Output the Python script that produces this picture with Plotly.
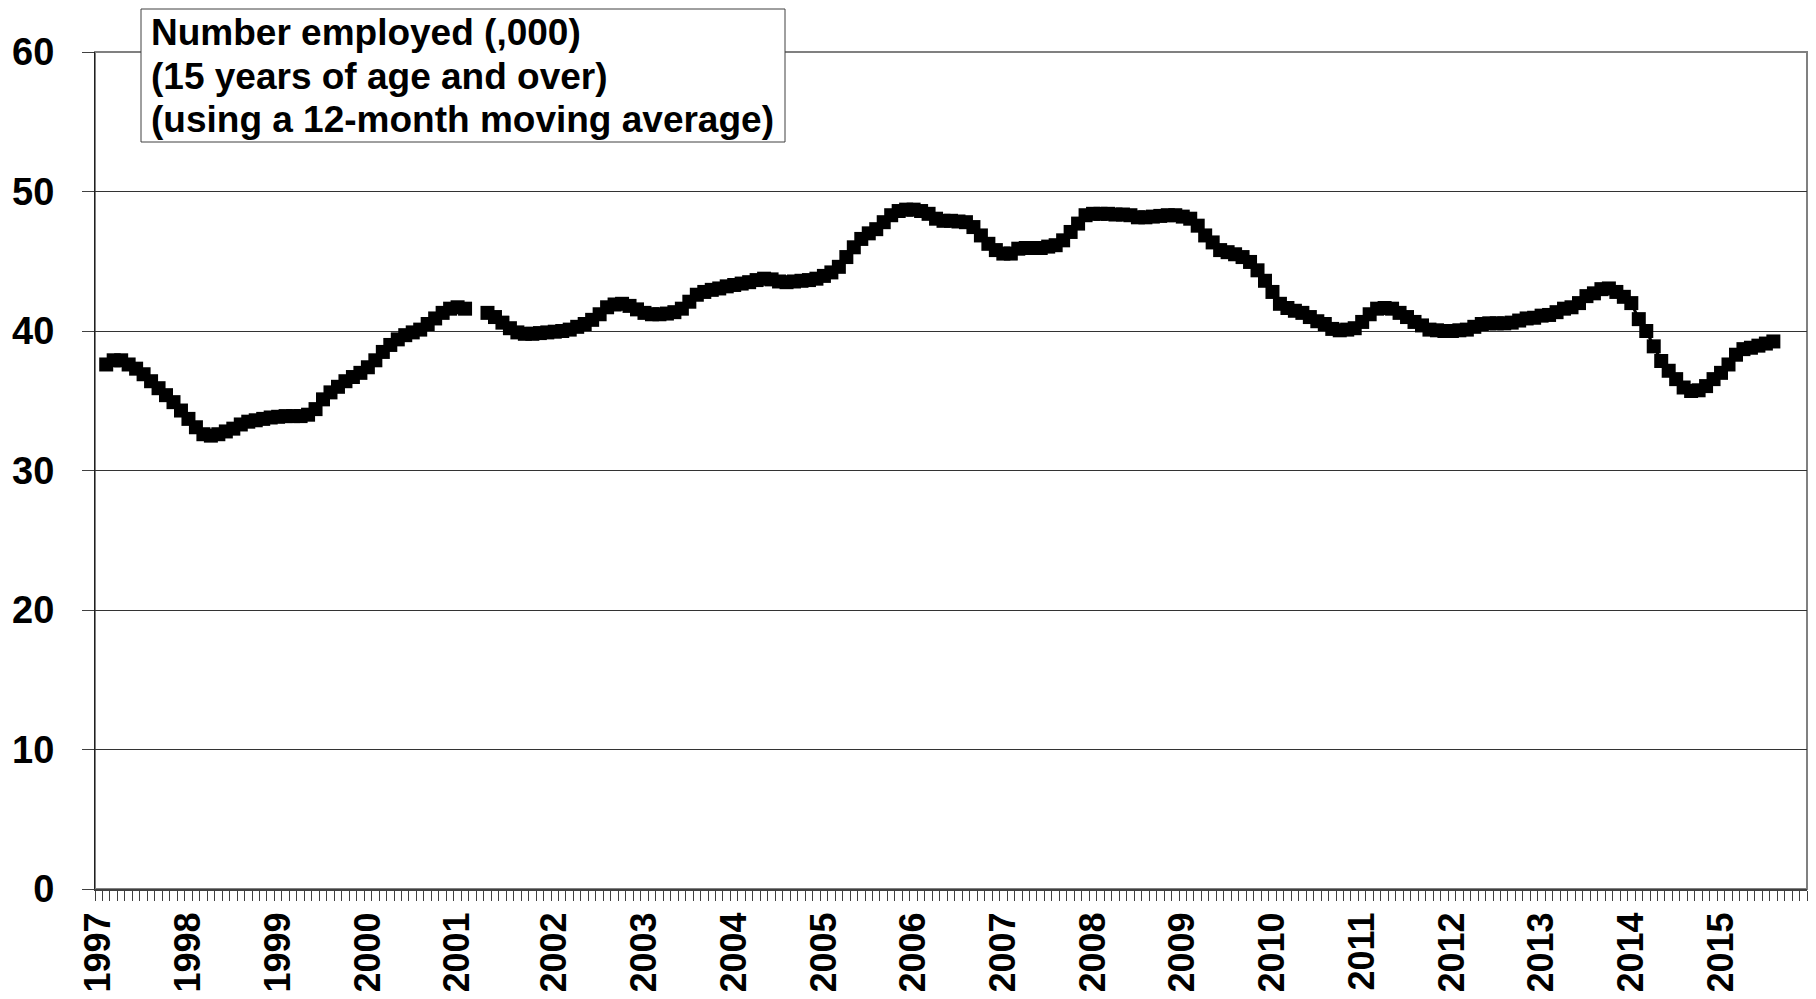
import plotly.graph_objects as go

# ---- data -------------------------------------------------------------
# monthly category slots (one extra blank slot inside 2001)
n_categories = 229
year_labels = ["1997", "1998", "1999", "2000", "2001", "2002", "2003", "2004",
               "2005", "2006", "2007", "2008", "2009", "2010", "2011", "2012",
               "2013", "2014", "2015"]
year_label_slot = [0, 12, 24, 36, 48, 61, 73, 85, 97, 109, 121, 133, 145,
                   157, 169, 181, 193, 205, 217]

employed = [
    None, 37.6, 37.9, 37.9, 37.6, 37.3, 36.9, 36.4, 35.9, 35.4, 34.9, 34.3,
    33.7, 33.1, 32.6, 32.5, 32.6, 32.8, 33.0, 33.3, 33.5, 33.6, 33.7, 33.8,
    33.85, 33.9, 33.9, 33.9, 34.0, 34.4, 35.1, 35.6, 36.0, 36.4, 36.7, 37.0,
    37.4, 37.9, 38.5, 39.0, 39.4, 39.7, 39.9, 40.1, 40.5, 40.9, 41.3, 41.6,
    41.7, 41.6, None, None, 41.3, 41.0, 40.6, 40.2, 39.9, 39.8, 39.8, 39.85, 39.9,
    39.95, 40.0, 40.1, 40.3, 40.5, 40.8, 41.2, 41.7, 41.9, 41.95, 41.8, 41.55,
    41.3, 41.2, 41.2, 41.25, 41.35, 41.6, 42.1, 42.6, 42.8, 42.95, 43.05, 43.2,
    43.3, 43.4, 43.5, 43.65, 43.75, 43.7, 43.55, 43.5, 43.55, 43.6, 43.65, 43.75,
    43.95, 44.2, 44.6, 45.3, 46.0, 46.6, 47.0, 47.3, 47.8, 48.3, 48.6, 48.7,
    48.7, 48.6, 48.4, 48.05, 47.9, 47.9, 47.85, 47.8, 47.45, 46.85, 46.25, 45.8,
    45.55, 45.55, 45.9, 45.95, 45.95, 45.95, 46.05, 46.15, 46.5, 47.1, 47.7, 48.3,
    48.4, 48.4, 48.4, 48.35, 48.35, 48.3, 48.15, 48.15, 48.2, 48.25, 48.3, 48.3,
    48.2, 48.05, 47.55, 46.85, 46.35, 45.8, 45.65, 45.5, 45.3, 44.95, 44.35, 43.6,
    42.8, 41.95, 41.65, 41.45, 41.3, 41.0, 40.7, 40.5, 40.15, 40.05, 40.1, 40.2,
    40.65, 41.2, 41.6, 41.65, 41.6, 41.3, 41.0, 40.65, 40.4, 40.1, 40.05, 40.0,
    40.0, 40.05, 40.1, 40.3, 40.5, 40.55, 40.55, 40.55, 40.6, 40.75, 40.9, 40.95,
    41.1, 41.15, 41.35, 41.6, 41.7, 42.0, 42.5, 42.7, 43.0, 43.05, 42.8, 42.45,
    42.0, 40.85, 40.0, 38.9, 37.85, 37.15, 36.55, 35.95, 35.7, 35.75, 36.05, 36.55,
    37.0, 37.6, 38.3, 38.7, 38.8, 38.95, 39.1, 39.25, None, None, None, None,
]

legend_lines = ["Number employed (,000)",
                "(15 years of age and over)",
                "(using a 12-month moving average)"]

# ---- figure -----------------------------------------------------------
FONT = "Liberation Sans, Arial, sans-serif"
BODY = 8                      # default page margin around the plot div
W, H = 1816 - 2 * BODY, 999 - 2 * BODY
# plot area in page pixels: x 95..1807, y 52..889
ML, MT = 95 - BODY, 52 - BODY
MR = W - (1807 - BODY)
MB = H - (889 - BODY)
PW, PH = W - ML - MR, H - MT - MB

slots = list(range(n_categories))

fig = go.Figure()
fig.add_trace(go.Scatter(
    x=slots, y=employed, mode="lines+markers",
    line=dict(color="black", width=3),
    marker=dict(symbol="square", size=14, color="black", line=dict(width=0)),
    connectgaps=False, showlegend=False, hoverinfo="skip",
))

def px_to_paper_x(px):          # page pixel -> paper fraction
    return (px - BODY - ML) / PW

def px_to_paper_y(py):
    return (MT + PH - (py - BODY)) / PH

shapes = [
    # plot-area border (grey)
    dict(type="rect", xref="paper", yref="paper", x0=0, x1=1, y0=0, y1=1,
         line=dict(color="#808080", width=2), layer="below"),
    # legend/title box
    dict(type="rect", xref="paper", yref="paper",
         x0=px_to_paper_x(141), x1=px_to_paper_x(785),
         y0=px_to_paper_y(142), y1=px_to_paper_y(9),
         line=dict(color="#404040", width=1), fillcolor="white", layer="above"),
]

annotations = []
for text, cy in zip(legend_lines, [33, 77, 120]):
    annotations.append(dict(
        xref="paper", yref="paper", x=px_to_paper_x(149), y=px_to_paper_y(cy),
        xanchor="left", yanchor="middle", showarrow=False, text=text,
        font=dict(family=FONT, size=37, color="black", weight="bold"),
    ))

fig.update_layout(
    width=W, height=H,
    margin=dict(l=ML, r=MR, t=MT, b=MB, pad=0, autoexpand=False),
    paper_bgcolor="white", plot_bgcolor="white",
    shapes=shapes, annotations=annotations,
    xaxis=dict(
        range=[-0.5, n_categories - 0.5], automargin=False,
        tickmode="array", tickvals=year_label_slot, ticktext=year_labels,
        tickangle=-90, ticks="", showgrid=False, zeroline=False,
        showline=True, linecolor="#404040", linewidth=2,
        tickfont=dict(family=FONT, size=36, color="black", weight="bold"),
        ticklabelstandoff=7,
        minor=dict(tickmode="linear", tick0=-0.5, dtick=1, ticks="outside",
                   ticklen=10, tickwidth=1, tickcolor="#404040", showgrid=False),
    ),
    yaxis=dict(
        range=[0, 60], tickmode="linear", tick0=0, dtick=10, automargin=False,
        ticks="outside", ticklen=12, tickwidth=1, tickcolor="#404040",
        showgrid=True, gridcolor="#333333", gridwidth=1, zeroline=False,
        showline=True, linecolor="#202020", linewidth=1,
        tickfont=dict(family=FONT, size=38, color="black", weight="bold"),
        ticklabelstandoff=20,
    ),
)

fig.write_html("out.html")
